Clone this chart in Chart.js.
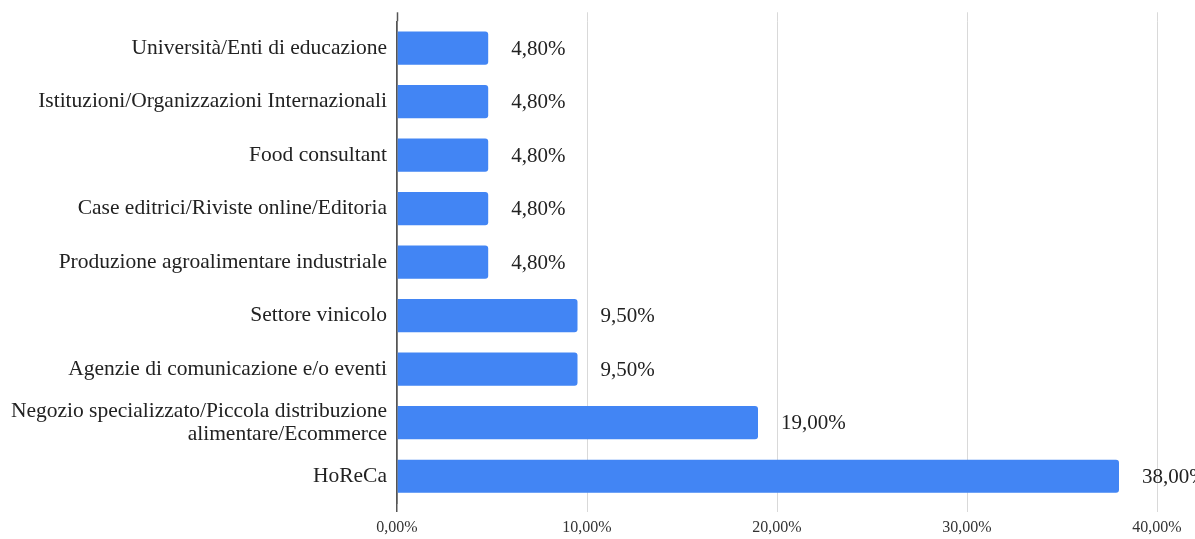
<!DOCTYPE html>
<html>
<head>
<meta charset="utf-8">
<script src="https://cdn.jsdelivr.net/npm/chart.js@4/dist/chart.umd.min.js"></script>
<style>
  html, body { margin: 0; padding: 0; background: #fff; }
  #wrap { width: 1195px; height: 539px; position: relative; }
</style>
</head>
<body>
<div id="wrap"><canvas id="myChart"></canvas></div>
<script>
var categories = [
    "Università/Enti di educazione",
    "Istituzioni/Organizzazioni Internazionali",
    "Food consultant",
    "Case editrici/Riviste online/Editoria",
    "Produzione agroalimentare industriale",
    "Settore vinicolo",
    "Agenzie di comunicazione e/o eventi",
    ["Negozio specializzato/Piccola distribuzione", "alimentare/Ecommerce"],
    "HoReCa"
];
var percentages = [4.8, 4.8, 4.8, 4.8, 4.8, 9.5, 9.5, 19.0, 38.0];
var xTicks = [0, 10, 20, 30, 40];

var serif = "'Liberation Serif', 'Times New Roman', serif";
var barColor = "#4285F4";

function fmtPct(v) {
    return v.toFixed(2).replace(".", ",") + "%";
}

// value labels right of the bars
var valueLabels = {
    id: "valueLabels",
    afterDatasetsDraw: function(chart) {
        var ctx = chart.ctx;
        var meta = chart.getDatasetMeta(0);
        ctx.save();
        ctx.font = "21px " + serif;
        ctx.fillStyle = "#222";
        ctx.textAlign = "left";
        ctx.textBaseline = "middle";
        meta.data.forEach(function(bar, i) {
            ctx.fillText(fmtPct(percentages[i]), bar.x + 23, bar.y + 1);
        });
        ctx.restore();
    }
};

// grid lines run a little above the plot area
var gridTop = {
    id: "gridTop",
    beforeDatasetsDraw: function(chart) {
        var ctx = chart.ctx;
        var xs = chart.scales.x;
        var top = chart.chartArea.top;
        ctx.save();
        xs.ticks.forEach(function(t) {
            var x = Math.round(xs.getPixelForValue(t.value)) + 0.5;
            ctx.strokeStyle = t.value === 0 ? "#555" : "#d9d9d9";
            ctx.lineWidth = t.value === 0 ? 1.5 : 1;
            ctx.beginPath();
            ctx.moveTo(x, top - 9);
            ctx.lineTo(x, top);
            ctx.stroke();
        });
        ctx.restore();
    }
};

var ctx = document.getElementById("myChart").getContext("2d");
var myChart = new Chart(ctx, {
    type: "bar",
    data: {
        labels: categories,
        datasets: [{
            data: percentages,
            backgroundColor: barColor,
            borderRadius: 3,
            borderSkipped: "start",
            categoryPercentage: 1,
            barPercentage: 0.62
        }]
    },
    options: {
        indexAxis: "y",
        responsive: true,
        maintainAspectRatio: false,
        animation: false,
        layout: { padding: { top: 21, right: 38, left: 0, bottom: 0 } },
        plugins: {
            legend: { display: false },
            tooltip: { enabled: false }
        },
        scales: {
            x: {
                min: 0,
                max: 40,
                afterBuildTicks: function(scale) {
                    scale.ticks = xTicks.map(function(v) { return { value: v }; });
                },
                afterFit: function(scale) { scale.height = 36; },
                grid: {
                    color: function(c) { return c.tick && c.tick.value === 0 ? "#555" : "#d9d9d9"; },
                    lineWidth: function(c) { return c.tick && c.tick.value === 0 ? 1.5 : 1; },
                    drawTicks: true,
                    tickLength: 9
                },
                border: { display: false },
                ticks: {
                    padding: 6,
                    color: "#333",
                    font: { family: serif, size: 16 },
                    callback: function(v) { return fmtPct(v); }
                }
            },
            y: {
                afterFit: function(scale) { scale.width = 397; },
                grid: { display: false, drawTicks: false },
                border: { display: true, color: "#555", width: 1.5 },
                ticks: {
                    padding: 10,
                    color: "#222",
                    font: { family: serif, size: 21.5, lineHeight: 1.05 }
                }
            }
        }
    },
    plugins: [valueLabels, gridTop]
});
</script>
</body>
</html>
